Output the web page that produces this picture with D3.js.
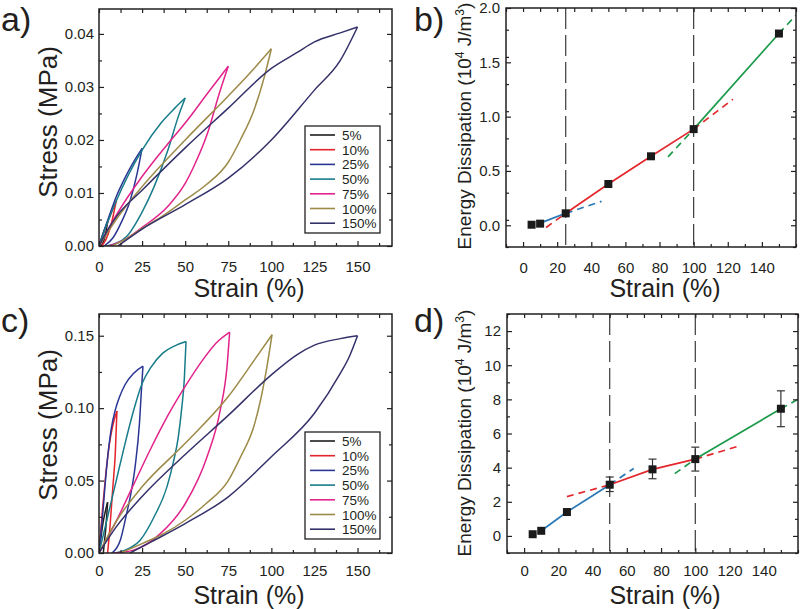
<!DOCTYPE html>
<html><head><meta charset="utf-8">
<script src="https://cdn.jsdelivr.net/npm/d3@7"></script>
<style>body{margin:0;background:#fff}svg{display:block}</style>
</head><body>
<svg id="c" width="800" height="609"></svg>
<script>
// ---------------- DATA ----------------
const loopLabels = ["5%","10%","25%","50%","75%","100%","150%"];
// panel a: loading / unloading curves [strain %, stress MPa]
const aLoad = [
  [[0,0],[2.5,0.0025],[5,0.0045]],
  [[0,0],[5,0.0045],[10,0.0085]],
  [[0,0],[5,0.0048],[10,0.0093],[15,0.0128],[20,0.0158],[25,0.0184]],
  [[0,0],[5,0.0045],[10,0.0085],[25,0.0181],[36,0.0232],[44,0.026],[50,0.0279]],
  [[0,0],[10,0.0058],[25,0.0131],[40,0.0193],[50,0.0232],[63,0.0288],[75,0.0339]],
  [[0,0],[10,0.005],[25,0.0112],[50,0.020],[75,0.0283],[90,0.0335],[100,0.0372]],
  [[0,0],[5,0.003],[10,0.0055],[25,0.0105],[50,0.0185],[75,0.026],[100,0.0335],[115,0.0365],[125,0.0385],[140,0.0402],[150,0.0413]]
];
const aUnload = [
  [[5,0.0045],[3.5,0.0018],[2,0.0004],[0.8,0]],
  [[10,0.0085],[7,0.004],[4,0.0012],[1.5,0]],
  [[25,0.0184],[22,0.0135],[18,0.0085],[13,0.0045],[8,0.0015],[3,0]],
  [[50,0.0279],[46,0.0244],[40,0.0181],[32,0.0112],[25,0.0064],[16,0.0018],[4.6,0]],
  [[75,0.0339],[70,0.029],[63,0.0213],[55,0.015],[50,0.0118],[40,0.0075],[25,0.0035],[15,0.0012],[5.5,0]],
  [[100,0.0372],[96,0.032],[90,0.0257],[82,0.020],[75,0.0158],[62,0.0115],[50,0.0087],[37,0.0057],[25,0.0033],[15,0.0012],[7.5,0]],
  [[150,0.0413],[140,0.035],[125,0.0294],[100,0.020],[75,0.0128],[50,0.0078],[25,0.0032],[11,0]]
];
// panel c
const cLoad = [
  [[0,0],[2.5,0.022],[5,0.035]],
  [[0,0],[2,0.03],[4,0.055],[6,0.075],[8,0.088],[10.4,0.098]],
  [[0,0],[2,0.025],[4.5,0.06],[7,0.085],[9.5,0.099],[12,0.108],[15,0.116],[20,0.124],[25.5,0.129]],
  [[0,0],[5,0.025],[10,0.05],[15,0.075],[20,0.098],[25,0.117],[30,0.128],[37,0.138],[44,0.143],[50.5,0.146]],
  [[0,0],[10,0.022],[20,0.047],[30,0.072],[40,0.095],[50,0.115],[60,0.133],[68,0.145],[75.8,0.1525]],
  [[0,0],[10.4,0.0226],[25,0.0457],[50,0.0757],[75,0.108],[90,0.133],[100.4,0.1507]],
  [[0,0],[10,0.018],[25,0.039],[50,0.068],[75,0.095],[100,0.123],[115,0.137],[125,0.1435],[140,0.148],[150,0.150]]
];
const cUnload = [
  [[5,0.035],[4,0.018],[3,0.006],[2.5,0]],
  [[10.4,0.098],[9.5,0.07],[8,0.045],[6.5,0.02],[5,0]],
  [[25.5,0.129],[24.5,0.11],[23.5,0.09],[21,0.06],[18,0.038],[16,0.027],[12.4,0.009],[7.5,0]],
  [[50.5,0.146],[49.5,0.12],[48,0.1],[46,0.08],[43,0.062],[39.5,0.046],[32,0.025],[24,0.009],[15,0.002],[9.5,0]],
  [[75.8,0.1525],[74.3,0.129],[70.4,0.099],[62.7,0.0665],[50,0.034],[35.6,0.0134],[20,0.002],[8.5,0]],
  [[100.4,0.1507],[97.5,0.129],[94,0.107],[90,0.088],[82,0.066],[75,0.05],[62,0.034],[50,0.0226],[37,0.013],[25,0.0065],[12.4,0]],
  [[150,0.150],[145,0.135],[140,0.124],[125,0.0965],[100,0.0665],[75,0.0388],[50,0.0203],[30,0.0075],[18,0]]
];
// panel b: energy dissipation (10^4 J/m^3)
const bStrain = [5,10,25,50,75,100,150];
const bEnergy = [0.005,0.015,0.11,0.38,0.635,0.885,1.765];
const bBlueSolid = [[10,0.02],[25,0.11]];
const bBlueDash = [[25,0.11],[46,0.22]];
const bRedDash1 = [[13.5,-0.02],[25,0.11]];
const bRedSolid = [[25,0.11],[50,0.38],[75,0.635],[100,0.885]];
const bRedDash2 = [[100,0.885],[123,1.16]];
const bGreenDash1 = [[85,0.63],[100,0.885]];
const bGreenSolid = [[100,0.885],[150,1.765]];
const bGreenDash2 = [[150,1.765],[160,1.935]];
const bVLines = [25,100];
// panel d
const dStrain = [5,10,25,50,75,100,150];
const dEnergy = [0.1,0.3,1.4,3.0,3.9,4.5,7.45];
const dErrLow = [0.1,0.3,1.4,2.6,3.35,3.8,6.4];
const dErrHigh = [0.1,0.3,1.4,3.45,4.5,5.2,8.5];
const dBlueSolid = [[10,0.3],[25,1.4],[50,3.0]];
const dBlueDash = [[50,3.0],[64,3.95]];
const dRedDash1 = [[25,2.3],[50,3.0]];
const dRedSolid = [[50,3.0],[75,3.9],[100,4.5]];
const dRedDash2 = [[100,4.5],[125,5.25]];
const dGreenDash1 = [[88,3.65],[100,4.5]];
const dGreenSolid = [[100,4.5],[150,7.45]];
const dGreenDash2 = [[150,7.45],[160,8.0]];
const dVLines = [50,100];
const strainTicksA = [0,25,50,75,100,125,150];
const stressTicksA = [0,0.01,0.02,0.03,0.04];
const stressTicksC = [0,0.05,0.10,0.15];
const strainTicksB = [0,20,40,60,80,100,120,140];
const energyTicksB = [0,0.5,1.0,1.5,2.0];
const energyTicksD = [0,2,4,6,8,10,12];

// ---------------- STYLE ----------------
const loopColors = ["#1e1e1e","#e4232a","#2b3694","#177c8a","#e2238b","#9c8a48","#34316a"];
const FONT = "'Liberation Sans', Arial, Helvetica, sans-serif";
const INK = "#231f20";
const BLUE="#2878b5", RED="#e3272c", GREEN="#1c9a4b";

const svg = d3.select("#c").style("font-family", FONT);

function tickOnly(g, axis, transform){
  const a = g.append("g").attr("transform",transform).call(axis.tickSizeOuter(0));
  a.selectAll("text").remove();
}

function frame(g, x, y, xMajor, xMinor, yMajor, yMinor, xFmt, yFmt, yPad, xPad) {
  const [x0,x1] = x.range(), [y1,y0] = y.range();
  tickOnly(g, d3.axisBottom(x).tickValues(xMinor).tickSize(-3), `translate(0,${y1})`);
  g.append("g").attr("transform",`translate(0,${y1})`)
    .call(d3.axisBottom(x).tickValues(xMajor).tickSize(-5).tickSizeOuter(0).tickPadding(xPad).tickFormat(xFmt));
  tickOnly(g, d3.axisTop(x).tickValues(xMinor.concat(xMajor)).tickSize(-4), `translate(0,${y0})`);
  tickOnly(g, d3.axisLeft(y).tickValues(yMinor).tickSize(-3), `translate(${x0},0)`);
  g.append("g").attr("transform",`translate(${x0},0)`)
    .call(d3.axisLeft(y).tickValues(yMajor).tickSize(-5).tickSizeOuter(0).tickPadding(yPad).tickFormat(yFmt));
  tickOnly(g, d3.axisRight(y).tickValues(yMajor).tickSize(-5), `translate(${x1},0)`);
  tickOnly(g, d3.axisRight(y).tickValues(yMinor).tickSize(-3), `translate(${x1},0)`);
  g.selectAll(".domain").remove();
  g.selectAll(".tick line").attr("stroke", INK).attr("stroke-width",1.2);
  g.selectAll(".tick text").attr("fill", INK).style("font-size","15px").style("font-family",FONT);
  g.append("rect").attr("x",x0).attr("y",y0).attr("width",x1-x0).attr("height",y1-y0)
    .attr("fill","none").attr("stroke",INK).attr("stroke-width",1.5);
}

function minorBetween(major, step, lo, hi){
  const out=[];
  for (let v=lo; v<=hi+1e-9; v+=step){
    const r = Math.round(v*1e6)/1e6;
    if (!major.some(m=>Math.abs(m-r)<1e-9)) out.push(r);
  }
  return out;
}

function loopPanel(top, bottom, yMax, load, unload, yTicks, yMinorStep, legendTop, letter, letterY, ylabelY, xlabelY, xPad) {
  const g = svg.append("g");
  const x = d3.scaleLinear().domain([0,170]).range([99,392]);
  const y = d3.scaleLinear().domain([0,yMax]).range([bottom,top]);
  const line = d3.line().x(d=>x(d[0])).y(d=>y(d[1])).curve(d3.curveMonotoneX);
  const clip = "clip"+letter;
  g.append("clipPath").attr("id",clip).append("rect").attr("x",99).attr("y",top).attr("width",293).attr("height",bottom-top);
  const lg = g.append("g").attr("clip-path",`url(#${clip})`);
  for (let i=0;i<load.length;i++){
    const up = load[i].slice().sort((p,q)=>p[0]-q[0]);
    const down = unload[i].slice().sort((p,q)=>p[0]-q[0]);
    lg.append("path").attr("d",line(up)).attr("fill","none").attr("stroke",loopColors[i]).attr("stroke-width",1.5);
    lg.append("path").attr("d",line(down)).attr("fill","none").attr("stroke",loopColors[i]).attr("stroke-width",1.5);
  }
  const xMinor = minorBetween(strainTicksA, 12.5, 12.5, 162.5);
  const yMinor = minorBetween(yTicks, yMinorStep, yMinorStep, yMax);
  frame(g, x, y, strainTicksA, xMinor, yTicks, yMinor, d3.format("d"), d3.format(".2f"), 5, xPad);
  // legend
  const L = g.append("g");
  L.append("rect").attr("x",305).attr("y",legendTop).attr("width",75).attr("height",107)
    .attr("fill","#fff").attr("stroke",INK).attr("stroke-width",1.3);
  loopLabels.forEach((lab,i)=>{
    const cy = legendTop + 9 + i*14.7;
    L.append("line").attr("x1",310).attr("x2",335).attr("y1",cy).attr("y2",cy)
      .attr("stroke",loopColors[i]).attr("stroke-width",1.6);
    L.append("text").attr("x",342).attr("y",cy+5).text(lab).style("font-size","13.5px").attr("fill",INK);
  });
  svg.append("text").attr("x",1).attr("y",letterY).text(letter+")").style("font-size","34px").attr("fill",INK);
  svg.append("text").attr("transform",`translate(57,${ylabelY}) rotate(-90)`).attr("text-anchor","middle")
    .text("Stress (MPa)").style("font-size","26px").attr("fill",INK);
  svg.append("text").attr("x",249).attr("y",xlabelY).attr("text-anchor","middle")
    .text("Strain (%)").style("font-size","25px").attr("fill",INK);
}

function energyPanel(x0,x1,top,bottom,yDom,yTicks,yMinorStep,yFmt,strain,energy,errLo,errHi,segs,vlines,letter,letterY,ylabelY,xlabelY,xPad){
  const g = svg.append("g");
  const x = d3.scaleLinear().domain([-10,160]).range([x0,x1]);
  const y = d3.scaleLinear().domain(yDom).range([bottom,top]);
  const line = d3.line().x(d=>x(d[0])).y(d=>y(d[1]));
  const clip = "clip"+letter;
  g.append("clipPath").attr("id",clip).append("rect").attr("x",x0).attr("y",top).attr("width",x1-x0).attr("height",bottom-top);
  const pg = g.append("g").attr("clip-path",`url(#${clip})`);
  vlines.forEach(v=>{
    pg.append("line").attr("x1",x(v)).attr("x2",x(v)).attr("y1",top).attr("y2",bottom)
      .attr("stroke","#3a3a3a").attr("stroke-width",1.2).attr("stroke-dasharray","21,6");
  });
  segs.forEach(s=>{
    pg.append("path").attr("d",line(s.d)).attr("fill","none").attr("stroke",s.c)
      .attr("stroke-width",1.7).attr("stroke-dasharray",s.dash?"7,5":null);
  });
  if (errLo){
    strain.forEach((s,i)=>{
      if (errHi[i]-errLo[i] < 0.05) return;
      const cx = x(s);
      pg.append("line").attr("x1",cx).attr("x2",cx).attr("y1",y(errLo[i])).attr("y2",y(errHi[i])).attr("stroke","#333").attr("stroke-width",1.2);
      [errLo[i],errHi[i]].forEach(v=>pg.append("line").attr("x1",cx-4).attr("x2",cx+4).attr("y1",y(v)).attr("y2",y(v)).attr("stroke","#333").attr("stroke-width",1.2));
    });
  }
  strain.forEach((s,i)=>{
    pg.append("rect").attr("x",x(s)-4).attr("y",y(energy[i])-4).attr("width",8).attr("height",8).attr("fill","#1a1a1a");
  });
  const xMinor = minorBetween(strainTicksB, 10, -10, 160);
  const yMinor = minorBetween(yTicks, yMinorStep, yDom[0], yDom[1]);
  frame(g, x, y, strainTicksB, xMinor, yTicks, yMinor, d3.format("d"), yFmt, 6, xPad);
  svg.append("text").attr("x",414).attr("y",letterY).text(letter+")").style("font-size","34px").attr("fill",INK);
  const t = svg.append("text").attr("transform",`translate(471,${ylabelY}) rotate(-90)`).attr("text-anchor","middle")
    .style("font-size","19px").attr("fill",INK);
  t.append("tspan").text("Energy Dissipation (10");
  t.append("tspan").text("4").style("font-size","12px").attr("dy","-7");
  t.append("tspan").text(" J/m").attr("dy","7");
  t.append("tspan").text("3").style("font-size","12px").attr("dy","-7");
  t.append("tspan").text(")").attr("dy","7");
  svg.append("text").attr("x",665).attr("y",xlabelY).attr("text-anchor","middle")
    .text("Strain (%)").style("font-size","25px").attr("fill",INK);
}

loopPanel(9, 246, 0.0447, aLoad, aUnload, stressTicksA, 0.005, 126, "a", 31, 122, 297, 15);
loopPanel(314, 553, 0.165, cLoad, cUnload, stressTicksC, 0.025, 432, "c", 332, 425, 604, 12.5);

energyPanel(506, 796, 8, 247, [-0.2,2.0], energyTicksB, 0.25, d3.format(".1f"),
  bStrain, bEnergy, null, null,
  [{d:bBlueSolid,c:BLUE},{d:bBlueDash,c:BLUE,dash:1},{d:bRedDash1,c:RED,dash:1},{d:bRedSolid,c:RED},
   {d:bRedDash2,c:RED,dash:1},{d:bGreenDash1,c:GREEN,dash:1},{d:bGreenSolid,c:GREEN},{d:bGreenDash2,c:GREEN,dash:1}],
  bVLines, "b", 31, 126, 297, 15);
energyPanel(507, 798, 314, 553, [-1,13], energyTicksD, 1, d3.format("d"),
  dStrain, dEnergy, dErrLow, dErrHigh,
  [{d:dBlueSolid,c:BLUE},{d:dBlueDash,c:BLUE,dash:1},{d:dRedDash1,c:RED,dash:1},{d:dRedSolid,c:RED},
   {d:dRedDash2,c:RED,dash:1},{d:dGreenDash1,c:GREEN,dash:1},{d:dGreenSolid,c:GREEN},{d:dGreenDash2,c:GREEN,dash:1}],
  dVLines, "d", 332, 433, 604, 12.5);
</script>
</body></html>
